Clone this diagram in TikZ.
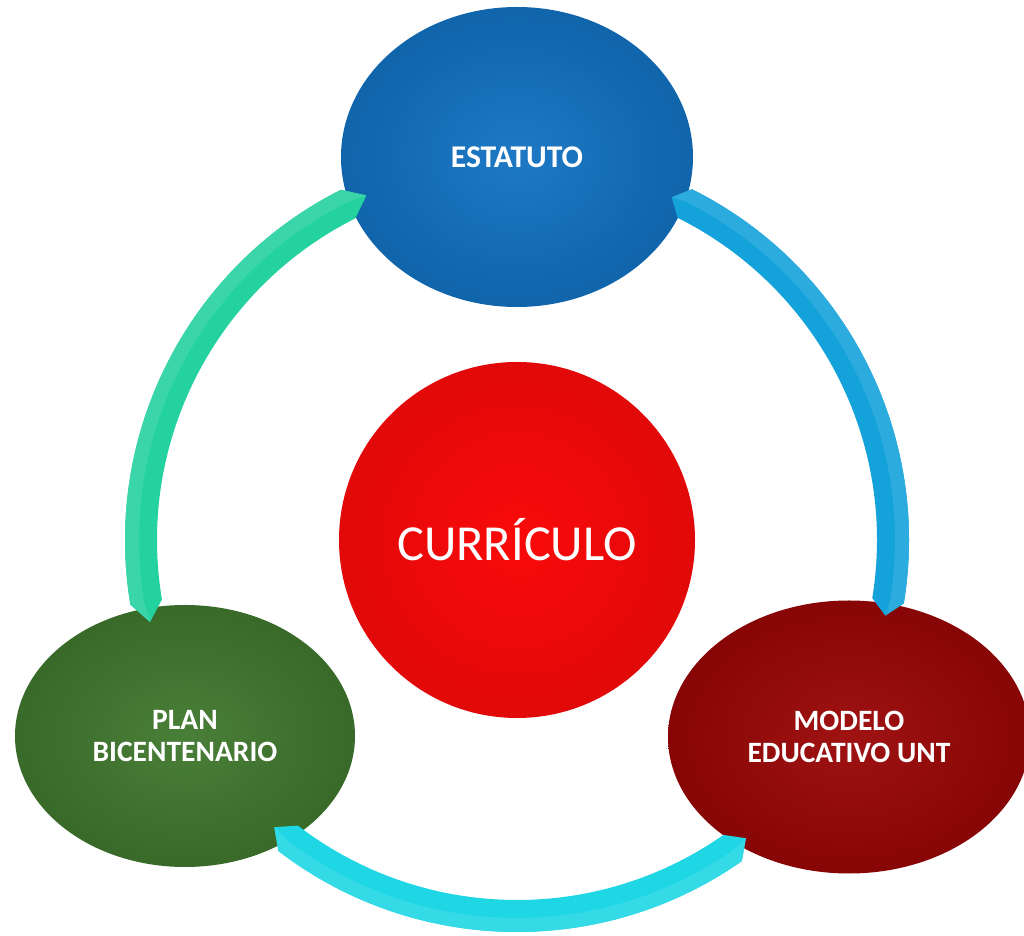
\documentclass[tikz,border=0pt]{standalone}
\usepackage{fontspec}
\setmainfont{Carlito}
\usetikzlibrary{shapes.geometric}

\definecolor{estblue}{RGB}{18,114,194}
\definecolor{curred}{RGB}{250,10,10}
\definecolor{plangreen}{RGB}{64,120,46}
\definecolor{moddark}{RGB}{154,6,6}
\definecolor{arcgreen}{RGB}{36,210,160}
\definecolor{arcblue}{RGB}{20,162,218}
\definecolor{arccyan}{RGB}{30,214,228}

\begin{document}
\begin{tikzpicture}[x=0.2mm, y=0.2mm,
  bubble/.style={ellipse, inner sep=0pt, text=white, align=center,
    font=\bfseries\fontsize{16.8}{18}\selectfont},
  band/.style={line join=round}]

\useasboundingbox (0,0) rectangle (1024,936);

\node[bubble, minimum width=70.4mm, minimum height=60mm, shade,
  inner color=estblue!95!white, outer color=estblue!88!black,
  font=\bfseries\fontsize{18}{20}\selectfont] (est) at (517,779) {ESTATUTO};
\node[bubble, minimum width=68mm, minimum height=52.4mm, shade,
  inner color=plangreen!95!white, outer color=plangreen!88!black] (plan) at (185,200) {PLAN\\BICENTENARIO};
\node[bubble, minimum width=72.4mm, minimum height=54.6mm, shade,
  inner color=moddark!95!white, outer color=moddark!88!black] (mod) at (849,199) {MODELO\\EDUCATIVO UNT};

\node[circle, minimum size=71.2mm, inner sep=0pt, shade,
  inner color=curred, outer color=curred!90!black, text=white,
  font=\fontsize{28.7}{32}\selectfont] (cur) at (517,396) {CURR\'ICULO};

% bands round the centre
\foreach \a/\b/\ta/\tb/\c in {116.7/189.5/113.6/192.6/arcgreen,
                              63.5/-9.3/65.7/-11.6/arcblue,
                              232.5/305/229.8/307.5/arccyan}{
\fill[band, \c] ([shift={(\ta:376)}]cur.center)
  -- ([shift={(\a:392)}]cur.center) arc[start angle=\a, end angle=\b, radius=392]
  -- ([shift={(\tb:376)}]cur.center)
  -- ([shift={(\b:360)}]cur.center) arc[start angle=\b, end angle=\a, radius=360]
  -- cycle;
\fill[band, \c!90!white] ([shift={(\ta:376)}]cur.center)
  -- ([shift={(\a:392)}]cur.center) arc[start angle=\a, end angle=\b, radius=392]
  -- ([shift={(\tb:376)}]cur.center)
  -- ([shift={(\b:378)}]cur.center) arc[start angle=\b, end angle=\a, radius=378]
  -- cycle;
}
\end{tikzpicture}
\end{document}
